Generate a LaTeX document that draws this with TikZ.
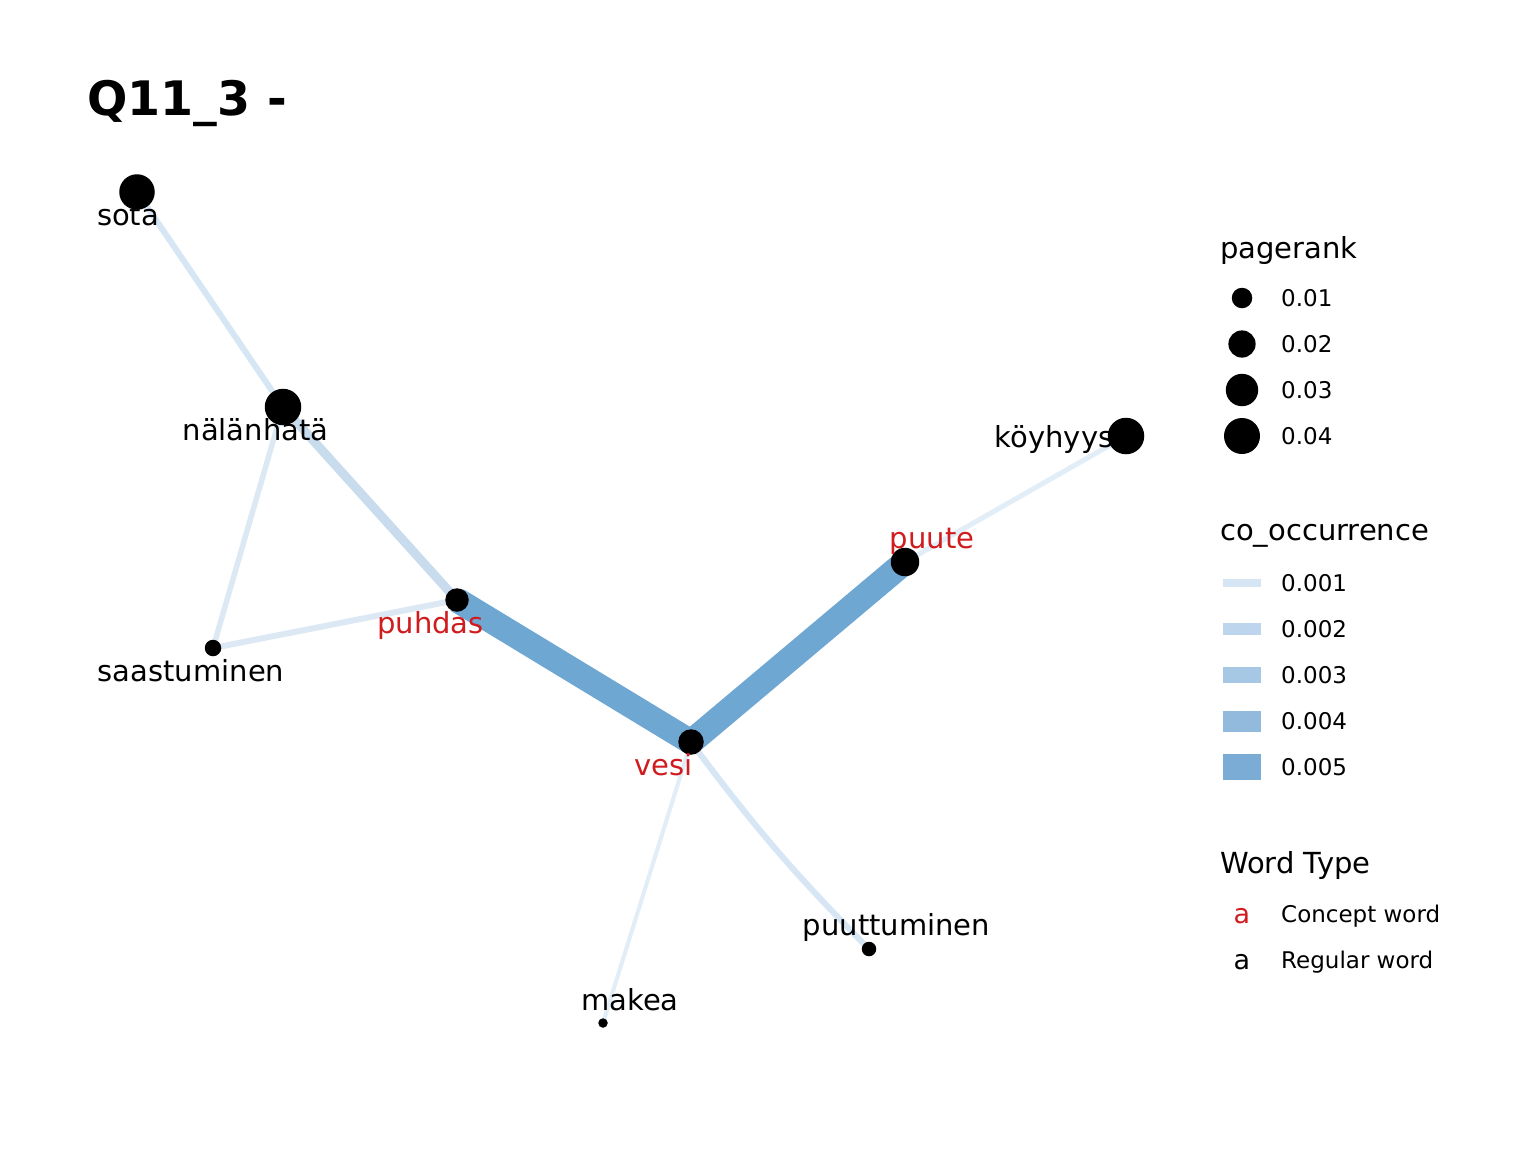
\documentclass[tikz,border=0pt]{standalone}
\usepackage{fontspec}
\setmainfont{DejaVu Sans}
\usetikzlibrary{backgrounds}
\definecolor{conceptred}{HTML}{D01C1F}
\definecolor{eA}{HTML}{D6E6F4}
\definecolor{eB}{HTML}{C8DCEE}
\definecolor{eC}{HTML}{DCE9F5}
\definecolor{eL}{HTML}{E1EDF7}
\definecolor{eT}{HTML}{6FA7D3}
\definecolor{kA}{HTML}{D5E5F3}
\definecolor{kB}{HTML}{BDD6ED}
\definecolor{kC}{HTML}{A6C8E5}
\definecolor{kD}{HTML}{92BADD}
\definecolor{kE}{HTML}{7AACD6}
\tikzset{
  vertex/.style={circle, fill=black, inner sep=0pt, minimum size=#1},
  edgeline/.style={line cap=butt},
  lbl/.style={anchor=base, inner sep=0pt, font=\fontsize{29}{34}\selectfont},
  clbl/.style={lbl, text=conceptred},
  legtitle/.style={anchor=base west, inner sep=0pt, font=\fontsize{29}{34}\selectfont},
  legtext/.style={anchor=base west, inner sep=0pt, font=\fontsize{23}{28}\selectfont},
  legkey/.style={anchor=base, inner sep=0pt, font=\fontsize{27}{32}\selectfont},
}
\begin{document}
\begin{tikzpicture}[x=1pt,y=-1pt]
\useasboundingbox (0,0) rectangle (1536,1152);

% title
\node[anchor=base west, inner sep=0pt, font=\fontsize{47.5}{56}\selectfont\bfseries] (title) at (87,115) {Q11\_3 -};

% graph nodes
\node[vertex=35.5pt] (sota) at (137,192) {};
\node[vertex=36.5pt] (nala) at (283,407) {};
\node[vertex=16.5pt] (saast) at (213,648) {};
\node[vertex=23.5pt] (puhdas) at (457,600) {};
\node[vertex=25.5pt] (vesi) at (691,742) {};
\node[vertex=28.5pt] (puute) at (905,562) {};
\node[vertex=36.5pt] (koyh) at (1126,436) {};
\node[vertex=14.5pt] (puutt) at (869,949) {};
\node[vertex=9.5pt] (makea) at (603,1023) {};

% background and edges
\begin{scope}[on background layer]
\fill[white] (0,0) rectangle (1536,1152);
\draw[edgeline, eA, line width=6pt] (sota.center) -- (nala.center);
\draw[edgeline, eB, line width=9pt] (nala.center) -- (puhdas.center);
\draw[edgeline, eC, line width=5.5pt] (nala.center) -- (saast.center);
\draw[edgeline, eC, line width=6pt] (saast.center) -- (puhdas.center);
\draw[edgeline, eT, line width=25pt] (puhdas.center) -- (vesi.center);
\draw[edgeline, eT, line width=25pt] (vesi.center) -- (puute.center);
\draw[edgeline, eL, line width=5pt] (puute.center) -- (koyh.center);
\draw[edgeline, eL, line width=4pt] (vesi.center) -- (makea.center);
\draw[edgeline, eA, line width=6pt] (vesi.center) to[bend right=4] (puutt.center);
\end{scope}

% node labels
\node[lbl] (lsota) at (128,225) {sota};
\node[lbl] (lnala) at (255.5,440) {nälänhätä};
\node[lbl] (lsaast) at (191,681) {saastuminen};
\node[clbl] (lpuhdas) at (430.5,633) {puhdas};
\node[clbl] (lvesi) at (663.5,775) {vesi};
\node[clbl] (lpuute) at (932,548) {puute};
\node[lbl] (lkoyh) at (1054,447) {köyhyys};
\node[lbl] (lpuutt) at (896.5,935) {puuttuminen};
\node[lbl] (lmakea) at (630,1010) {makea};

% legend: pagerank
\node[legtitle] (tpr) at (1220,258) {pagerank};
\node[vertex=20.5pt] (pr1) at (1242,298) {};
\node[vertex=27.2pt] (pr2) at (1242,344) {};
\node[vertex=32.4pt] (pr3) at (1242,390) {};
\node[vertex=36pt] (pr4) at (1242,436) {};
\node[legtext] (tpr1) at (1281,306) {0.01};
\node[legtext] (tpr2) at (1281,352) {0.02};
\node[legtext] (tpr3) at (1281,398) {0.03};
\node[legtext] (tpr4) at (1281,444) {0.04};

% legend: co_occurrence
\node[legtitle] (tco) at (1220,540) {co\_occurrence};
\fill[kA] (1223,579.2) rectangle (1261,586.8);
\fill[kB] (1223,622.7) rectangle (1261,635.3);
\fill[kC] (1223,666.7) rectangle (1261,683.3);
\fill[kD] (1223,710.5) rectangle (1261,731.5);
\fill[kE] (1223,754) rectangle (1261,780);
\node[legtext] (tco1) at (1281,591) {0.001};
\node[legtext] (tco2) at (1281,637) {0.002};
\node[legtext] (tco3) at (1281,683) {0.003};
\node[legtext] (tco4) at (1281,729) {0.004};
\node[legtext] (tco5) at (1281,775) {0.005};

% legend: word type
\node[legtitle] (twt) at (1220,873) {Word Type};
\node[legkey, text=conceptred] (ka) at (1242,923) {a};
\node[legkey] (kb) at (1242,969) {a};
\node[legtext] (twt1) at (1281,922) {Concept word};
\node[legtext] (twt2) at (1281,968) {Regular word};
\end{tikzpicture}
\end{document}
